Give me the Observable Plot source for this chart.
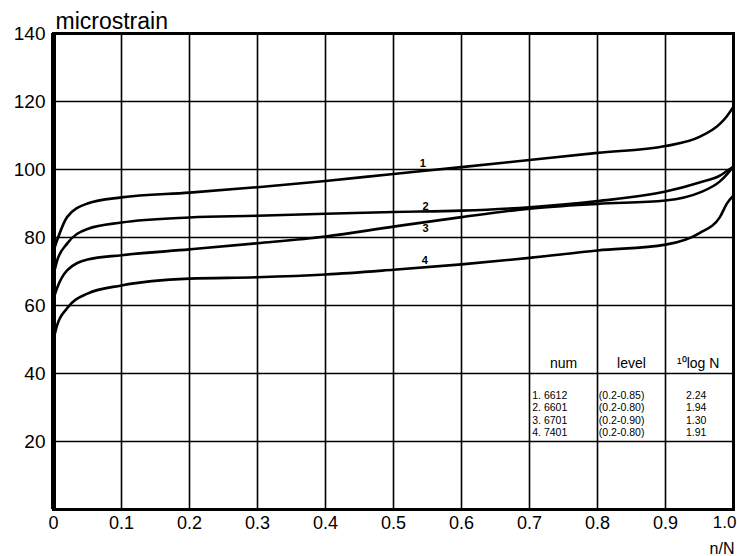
<!DOCTYPE html>
<html>
<head>
<meta charset="utf-8">
<script src="https://cdn.jsdelivr.net/npm/d3@7"></script>
<script src="https://cdn.jsdelivr.net/npm/@observablehq/plot@0.6"></script>
<style>
  html, body { margin: 0; padding: 0; background: #fff; }
  #chart svg { display: block; }
</style>
</head>
<body>
<div id="chart"></div>
<script>
// ---- data ----
const nN = [0, 0.005, 0.02, 0.05, 0.1, 0.2, 0.3, 0.4, 0.5, 0.6, 0.7, 0.8, 0.9, 0.95, 0.98, 0.99, 1.0];
const curve1 = [76, 79, 86, 90, 91.8, 93.2, 94.8, 96.6, 98.7, 100.7, 102.8, 104.9, 106.9, 109.6, 113.4, 115.6, 118.5];
const curve2 = [69, 73, 78.2, 82.5, 84.4, 85.9, 86.4, 87.0, 87.5, 87.9, 88.9, 90.7, 93.5, 96.2, 98.2, 99.5, 100.8];
const curve3 = [62, 65, 70.3, 73.5, 74.8, 76.5, 78.3, 80.3, 83.2, 86.0, 88.5, 89.9, 90.9, 93.2, 96.5, 98.5, 101];
const curve4 = [50, 54, 59.2, 63.5, 65.9, 67.9, 68.3, 69.1, 70.5, 72.1, 74.0, 76.2, 77.9, 81.3, 86, 89.9, 92.4];
const seriesNames = ["1", "2", "3", "4"];
const labelX = [0.543, 0.547, 0.547, 0.546];
const labelY = [101.8, 89.1, 82.6, 73.2];

const xTicks = [0, 0.1, 0.2, 0.3, 0.4, 0.5, 0.6, 0.7, 0.8, 0.9, 1.0];
const xTickLabels = ["0", "0.1", "0.2", "0.3", "0.4", "0.5", "0.6", "0.7", "0.8", "0.9", "1.0"];
const yTicks = [20, 40, 60, 80, 100, 120, 140];

const tableHeader = ["num", "level", "¹⁰log N"];
const tableNum = ["1. 6612", "2. 6601", "3. 6701", "4. 7401"];
const tableLevel = ["(0.2-0.85)", "(0.2-0.80)", "(0.2-0.90)", "(0.2-0.80)"];
const tableLogN = ["2.24", "1.94", "1.30", "1.91"];

const yTitle = "microstrain";
const xTitle = "n/N";

// ---- build ----
const allCurves = [curve1, curve2, curve3, curve4];
const lineData = allCurves.flatMap((c, i) => c.map((v, j) => ({s: seriesNames[i], x: nN[j], y: v})));
const labels = seriesNames.map((s, i) => ({s, x: labelX[i], y: labelY[i]}));

const headerY = 43.0;
const rowY = i => 33.6 - i * 3.7;
const rows = tableNum.map((n, i) => ({n, level: tableLevel[i], logN: tableLogN[i], y: rowY(i)}));
const headerCols = [0.75, 0.85, 0.948];

const font = "Liberation Sans, Arial, sans-serif";
const fmt = d => xTickLabels[xTicks.indexOf(d)];

const chart = Plot.plot({
  width: 737,
  height: 556,
  marginLeft: 53,
  marginRight: 4,
  marginTop: 33,
  marginBottom: 47,
  style: {fontFamily: font, background: "#fff", color: "#000"},
  x: {domain: [0, 1], ticks: xTicks, label: null},
  y: {domain: [0, 140], ticks: yTicks, label: null},
  marks: [
    Plot.ruleX(xTicks.slice(1, -1), {stroke: "#000", strokeWidth: 1.6}),
    Plot.ruleY(yTicks.slice(0, -1), {stroke: "#000", strokeWidth: 1.6}),
    Plot.frame({stroke: "#000", strokeWidth: 3}),
    Plot.ruleX([0], {stroke: "#000", strokeWidth: 5}),
    Plot.axisX({ticks: xTicks.slice(0, -1), tickSize: 0, tickPadding: 7, fontSize: 18, tickFormat: fmt}),
    Plot.axisX({ticks: xTicks.slice(-1), tickSize: 0, tickPadding: 6, fontSize: 17, tickFormat: fmt, textAnchor: "end", dx: 3}),
    Plot.axisY({ticks: yTicks, tickSize: 0, tickPadding: 8, fontSize: 19}),
    Plot.line(lineData, {x: "x", y: "y", z: "s", stroke: "#000", strokeWidth: 2.6, curve: "monotone-x"}),
    Plot.text(labels, {x: "x", y: "y", text: "s", fontSize: 11, fontWeight: "bold", fill: "#000"}),
    // table
    Plot.text(tableHeader, {x: (d, i) => headerCols[i], y: headerY, text: d => d, fontSize: 14, fill: "#000"}),
    Plot.text(rows, {x: 0.704, y: "y", text: "n", textAnchor: "start", fontSize: 10.5, fill: "#000", letterSpacing: 0.8}),
    Plot.text(rows, {x: 0.802, y: "y", text: "level", textAnchor: "start", fontSize: 10.5, fill: "#000", letterSpacing: 0.3}),
    Plot.text(rows, {x: 0.945, y: "y", text: "logN", fontSize: 10.5, fill: "#000"}),
    // titles
    Plot.text([yTitle], {frameAnchor: "top-left", dx: 2, dy: -5, lineAnchor: "bottom", textAnchor: "start", fontSize: 23, letterSpacing: 1, fill: "#000"}),
    Plot.text([xTitle], {frameAnchor: "bottom-right", dx: 1, dy: 44, lineAnchor: "bottom", textAnchor: "end", fontSize: 16, letterSpacing: 2, fill: "#000"})
  ]
});
document.getElementById("chart").appendChild(chart);
</script>
</body>
</html>
